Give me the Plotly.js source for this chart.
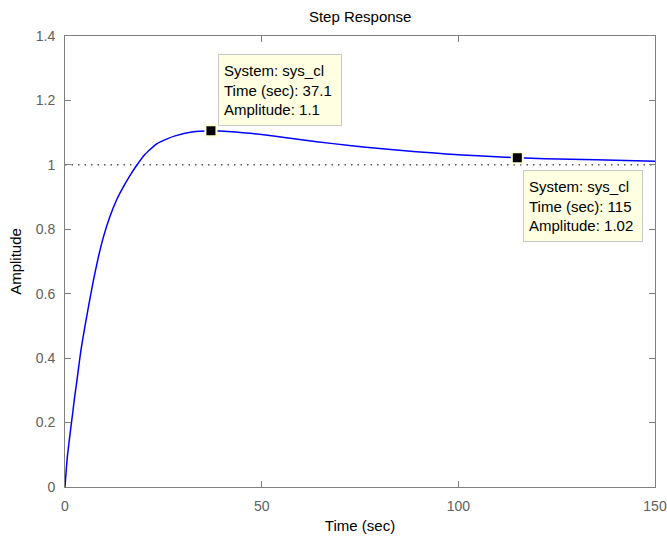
<!DOCTYPE html>
<html>
<head>
<meta charset="utf-8">
<script src="https://cdn.plot.ly/plotly-3.0.1.min.js"></script>
<style>html,body{margin:0;padding:0;background:#fff;}#chart{width:667px;height:536px;}</style>
</head>
<body>
<div id="chart"></div>
<script>
// Step response samples
var timeSec = [0, 0.17, 0.6, 1.1, 1.5, 1.95, 2.37, 2.97, 3.4, 4.0, 4.66, 5.26, 5.9, 7.2, 8.47, 9.74, 11.4, 13.1, 14.8, 16.95, 18.2, 20.3, 23.3, 25.8, 28, 32.2, 37.1, 39.3, 47, 55.3, 64, 72.3, 80.7, 89.3, 97, 105, 112, 115, 122, 135, 150];
var amplitude = [0, 0.03, 0.094, 0.146, 0.186, 0.229, 0.272, 0.325, 0.365, 0.42, 0.47, 0.512, 0.555, 0.64, 0.713, 0.775, 0.839, 0.891, 0.931, 0.975, 0.998, 1.032, 1.065, 1.08, 1.09, 1.102, 1.106, 1.105, 1.098, 1.086, 1.072, 1.060, 1.050, 1.041, 1.034, 1.028, 1.024, 1.022, 1.019, 1.016, 1.011];
// Steady-state reference
var refTime = [0, 150];
var refAmp = [1, 1];
// Data tips
var tipSystem = ["sys_cl", "sys_cl"];
var tipTime = [37.1, 115];
var tipAmp = [1.106, 1.022];
var tipTimeLabel = ["37.1", "115"];
var tipAmpLabel = ["1.1", "1.02"];
// Axis ticks
var xTicks = [0, 50, 100, 150];
var yTicks = [0, 0.2, 0.4, 0.6, 0.8, 1, 1.2, 1.4];
var yTickText = ["0", "0.2", "0.4", "0.6", "0.8", "1", "1.2", "1.4"];

var traces = [
  {x: refTime, y: refAmp, mode: 'lines', line: {color: '#000', width: 1, dash: '1.5px,5px'}, hoverinfo: 'skip'},
  {x: timeSec, y: amplitude, mode: 'lines', line: {color: '#0000ff', width: 1.5, shape: 'spline', smoothing: 0.5}},
  {x: tipTime, y: tipAmp, mode: 'markers', marker: {symbol: 'square', size: 11, color: '#000', line: {color: '#ffffd8', width: 2}}}
];

var tipShift = [[7, 77], [6, -12]];
var tipWidth = [112, 108];
var annotations = tipTime.map(function(t, i){
  return {
    x: t, y: tipAmp[i], xref: 'x', yref: 'y', showarrow: false,
    xanchor: 'left', yanchor: 'top', align: 'left',
    xshift: tipShift[i][0], yshift: tipShift[i][1],
    width: tipWidth[i], height: 60,
    text: 'System: ' + tipSystem[i] + '<br>Time (sec): ' + tipTimeLabel[i] + '<br>Amplitude: ' + tipAmpLabel[i],
    font: {family: 'Arial, Liberation Sans, sans-serif', size: 15, color: '#000'},
    bgcolor: '#ffffe1', bordercolor: '#c8c8c8', borderwidth: 1, borderpad: 5
  };
});

var axisCommon = {
  showgrid: false, zeroline: false, showline: true, linecolor: '#808080', linewidth: 1,
  mirror: 'ticks', ticks: 'inside', ticklen: 6, tickcolor: '#808080', tickwidth: 1,
  tickfont: {family: 'Arial, Liberation Sans, sans-serif', size: 14, color: '#606060'},
  fixedrange: true
};

var layout = {
  width: 667, height: 536,
  margin: {l: 65, r: 12, t: 36, b: 49, pad: 0},
  paper_bgcolor: '#fff', plot_bgcolor: '#fff',
  showlegend: false,
  title: {text: 'Step Response', x: 0.54, xanchor: 'center', y: 0.968, yanchor: 'middle',
          font: {family: 'Arial, Liberation Sans, sans-serif', size: 15, color: '#000'}},
  xaxis: Object.assign({}, axisCommon, {
    range: [0, 150], tickvals: xTicks, ticktext: xTicks.map(String), ticklabelstandoff: 6,
    title: {text: 'Time (sec)', standoff: 7, font: {family: 'Arial, Liberation Sans, sans-serif', size: 15, color: '#000'}}
  }),
  yaxis: Object.assign({}, axisCommon, {
    range: [0, 1.4], tickvals: yTicks, ticktext: yTickText, ticklabelstandoff: 6,
    title: {text: 'Amplitude', standoff: 10, font: {family: 'Arial, Liberation Sans, sans-serif', size: 15, color: '#000'}}
  }),
  annotations: annotations
};

Plotly.newPlot('chart', traces, layout, {displayModeBar: false, staticPlot: true});
</script>
</body>
</html>
